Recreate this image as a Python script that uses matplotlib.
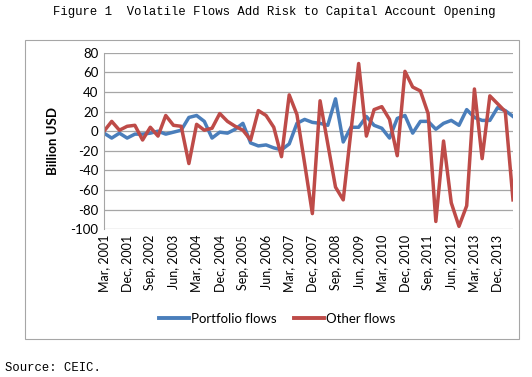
import matplotlib
matplotlib.use("Agg")
import matplotlib.pyplot as plt
from matplotlib.patches import Rectangle
from matplotlib.lines import Line2D

months = ["Mar", "Jun", "Sep", "Dec"]
quarters = [f"{months[i % 4]}, {2001 + i // 4}" for i in range(54)]

portfolio = [-2, -7, -2, -7, -3, -3, -2, 0, -3, -1,
             1, 14, 16, 10, -7, -1, -2, 2, 8, -12,
             -15, -14, -17, -19, -13, 8, 12, 9, 8, 6,
             33, -11, 4, 4, 15, 6, 3, -7, 13, 16,
             -2, 10, 10, 2, 8, 11, 6, 22, 14, 11,
             11, 24, 21, 15]
other = [0, 10, 1, 5, 6, -9, 4, -5, 16, 6,
         5, -33, 7, 1, 3, 18, 10, 5, 1, -9,
         21, 16, 4, -26, 37, 17, -33, -84, 31, -13,
         -57, -70, 0, 69, -5, 22, 25, 12, -25, 61,
         45, 41, 18, -92, -10, -73, -97, -76, 43, -28,
         36, 28, 20, -70]
yticks = list(range(-100, 81, 20))

BLUE = "#4A7EBB"
RED = "#BE4B48"

fig = plt.figure(figsize=(5.32, 3.77), dpi=100)
W, H = 532, 377

# outer chart frame
fig.patches.append(Rectangle((25 / W, 1 - 339 / H), (519 - 25) / W, (339 - 40) / H,
                             transform=fig.transFigure, fill=False,
                             edgecolor="#A6A6A6", linewidth=0.8))

ax = fig.add_axes([104 / W, 1 - 229.3 / H, (513 - 104) / W, (229.3 - 52.7) / H])
x = list(range(len(quarters)))
ax.plot(x, portfolio, color=BLUE, linewidth=2.5, solid_joinstyle="round")
ax.plot(x, other, color=RED, linewidth=2.5, solid_joinstyle="round")

ax.set_xlim(0, len(quarters) - 1)
ax.set_ylim(-100, 80)
ax.set_yticks(yticks)
ax.set_yticklabels([str(v) for v in yticks], fontsize=9.5, family="Lato")
ax.set_xticks(x[::3])
ax.set_xticklabels(quarters[::3], rotation=90, fontsize=9, family="Lato")
ax.tick_params(axis="both", length=0, pad=4)
ax.grid(axis="y", color="#A6A6A6", linewidth=0.9)
ax.set_axisbelow(True)
for s in ["top", "right", "bottom"]:
    ax.spines[s].set_visible(False)
ax.spines["left"].set_color("#A6A6A6")
ax.set_ylabel("Billion USD", fontsize=9.5, fontweight="bold", family="Lato", labelpad=8)

handles = [Line2D([], [], color=BLUE, linewidth=2.8),
           Line2D([], [], color=RED, linewidth=2.8)]
fig.legend(handles, ["Portfolio flows", "Other flows"], loc="center",
           bbox_to_anchor=(277 / W, 1 - 319 / H), ncol=2, frameon=False,
           prop={"family": "Lato", "size": 9.5}, handlelength=2.3,
           handletextpad=0.15, columnspacing=1.3)

fig.text(53 / W, 1 - 12 / H, "Figure 1  Volatile Flows Add Risk to Capital Account Opening",
         family="Liberation Mono", fontsize=8.8, va="center", ha="left")
fig.text(5 / W, 1 - 368 / H, "Source: CEIC.", family="Liberation Mono",
         fontsize=8.8, va="center", ha="left")

fig.savefig("out.png", dpi=100)
